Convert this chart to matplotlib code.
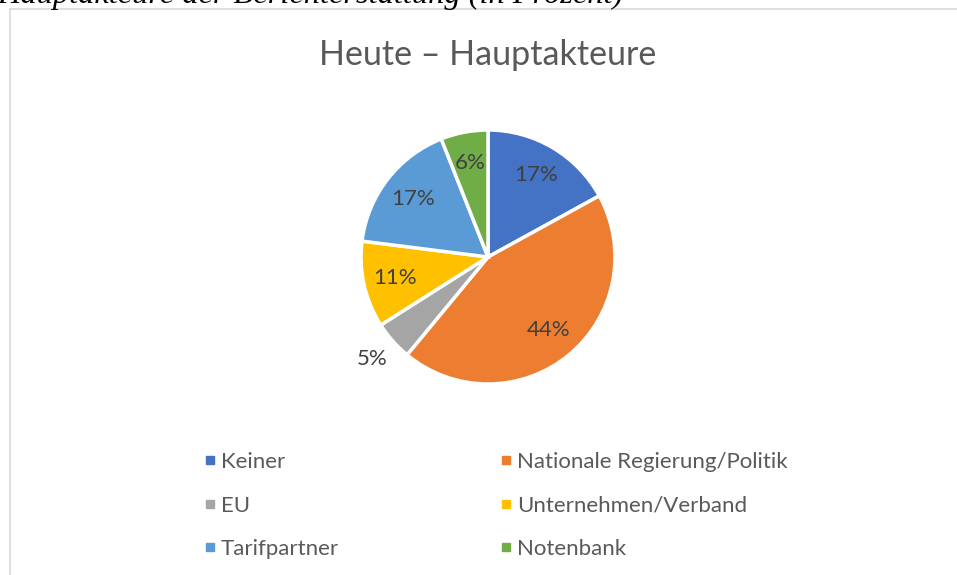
import numpy as np
import matplotlib.pyplot as plt
from matplotlib.lines import Line2D

# Daten
kategorien = ["Keiner", "Nationale Regierung/Politik", "EU",
              "Unternehmen/Verband", "Tarifpartner", "Notenbank"]
anteile = [17, 44, 5, 11, 17, 6]
farben = ["#4472C4", "#ED7D31", "#A5A5A5", "#FFC000", "#5B9BD5", "#70AD47"]

plt.rcParams['font.family'] = ['Lato', 'DejaVu Sans']

W, H = 957, 575
fig = plt.figure(figsize=(W / 100, H / 100), dpi=100)

# Rahmen des Diagramms
fig.add_artist(Line2D([10 / W, 10 / W], [0, 1 - 9 / H], color="#D9D9D9", lw=1.2))
fig.add_artist(Line2D([10 / W, 1], [1 - 9 / H, 1 - 9 / H], color="#D9D9D9", lw=1.2))

# abgeschnittene Ueberschrift oben
fig.text(-3 / W, 1 - 2.5 / H, "Hauptakteure der Berichterstattung (in Prozent)",
         family="Liberation Serif", style="italic", fontsize=23.3,
         ha="left", va="baseline", color="black")

fig.text(488 / W, 1 - 55 / H, "Heute \u2013 Hauptakteure", fontsize=24.5,
         color="#595959", ha="center", va="center")

# Kreisdiagramm
cx, cy, r = 488, 257, 127
ax = fig.add_axes([(cx - r) / W, (H - cy - r) / H, 2 * r / W, 2 * r / H])
wedges, texts, autotexts = ax.pie(
    anteile, colors=farben, startangle=90, counterclock=False,
    autopct="%d%%", pctdistance=0.75,
    wedgeprops=dict(edgecolor="white", linewidth=2.5),
    textprops=dict(color="#404040", fontsize=16))
ax.set_xlim(-1, 1)
ax.set_ylim(-1, 1)
ax.axis("off")

for w, t, v in zip(wedges, autotexts, anteile):
    if v <= 5:
        mitte = np.deg2rad((w.theta1 + w.theta2) / 2)
        t.set_position((1.22 * np.cos(mitte), 1.22 * np.sin(mitte)))

# Legende (spaltenweise gefuellt)
reihenfolge = [0, 2, 4, 1, 3, 5]
handles = [Line2D([], [], marker="s", linestyle="none", markersize=6,
                  color=farben[i]) for i in reihenfolge]
labels = [kategorien[i] for i in reihenfolge]
leg = fig.legend(handles, labels, ncol=2, loc="center left",
                 bbox_to_anchor=(183 / W, 1 - 505.5 / H), frameon=False,
                 fontsize=16, handlelength=0.6, handletextpad=0.2,
                 labelspacing=1.06, columnspacing=7.2)
for t in leg.get_texts():
    t.set_color("#595959")

fig.savefig("out.png", dpi=100)
